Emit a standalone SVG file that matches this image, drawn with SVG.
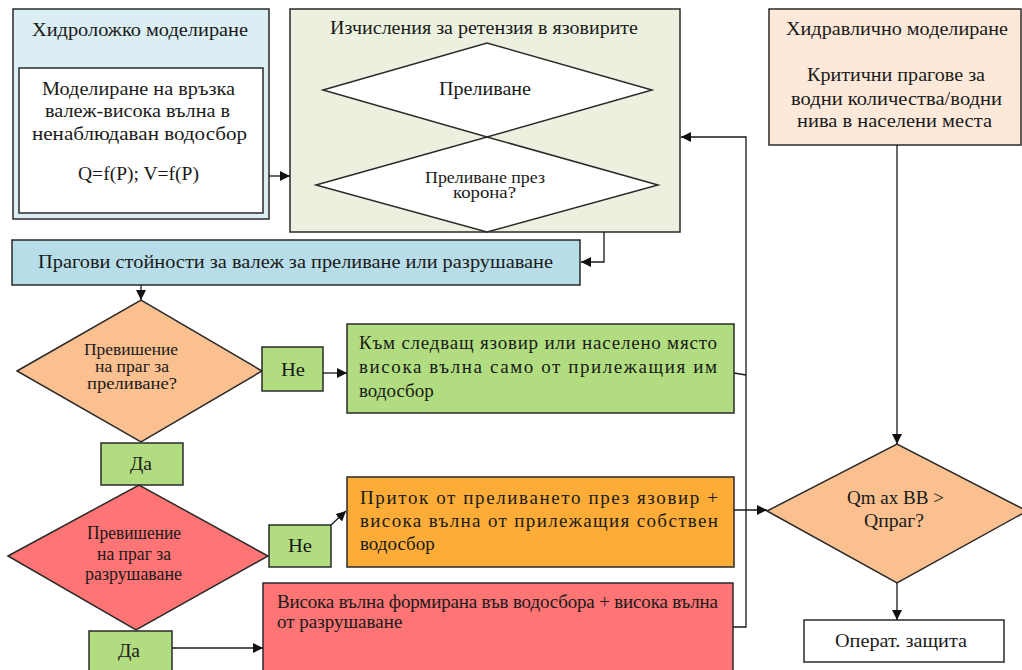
<svg xmlns="http://www.w3.org/2000/svg" width="1022" height="670" viewBox="0 0 1022 670">
<defs>
<marker id="ah" viewBox="0 0 10 10" refX="10" refY="5" markerWidth="10" markerHeight="10" markerUnits="userSpaceOnUse" orient="auto">
<path d="M0,0 L10,5 L0,10 z" fill="#111"/>
</marker>
<style>
.b{stroke:#2a2a2a;stroke-width:1.5}
.t{font-family:"Liberation Serif","Times New Roman",serif;font-size:19px;fill:#1a1a1a}
.s{font-size:16px}
.c{text-anchor:middle}
.ln{fill:none;stroke:#1a1a1a;stroke-width:1.3}
.la{fill:none;stroke:#1a1a1a;stroke-width:1.3;marker-end:url(#ah)}
</style>
</defs>
<rect width="1022" height="670" fill="#fff"/>

<g id="hydro">
<rect class="b" x="13" y="9" width="256" height="210" fill="#dbeef4"/>
<text class="t" x="32" y="36" textLength="216" lengthAdjust="spacingAndGlyphs">Хидроложко моделиране</text>
<rect class="b" x="19" y="68" width="244" height="145" fill="#fff"/>
<text class="t" x="42" y="95" textLength="193" lengthAdjust="spacingAndGlyphs">Моделиране на връзка</text>
<text class="t" x="45" y="117" textLength="185" lengthAdjust="spacingAndGlyphs">валеж-висока вълна в</text>
<text class="t" x="32" y="140" textLength="215" lengthAdjust="spacingAndGlyphs">ненаблюдаван водосбор</text>
<text class="t" x="78" y="180" textLength="121" lengthAdjust="spacingAndGlyphs">Q=f(P);  V=f(P)</text>
</g>

<g id="retention">
<rect class="b" x="290" y="9" width="390" height="223" fill="#ebf1de"/>
<text class="t" x="330" y="34" textLength="308" lengthAdjust="spacingAndGlyphs">Изчисления за ретензия в язовирите</text>
<polygon class="b" points="323,90 487,43 652,90 487,137" fill="#fff"/>
<text class="t" x="439" y="95" textLength="92" lengthAdjust="spacingAndGlyphs">Преливане</text>
<polygon class="b" points="316,185 487,137 658,185 487,232" fill="#fff"/>
<text class="t s" x="425" y="183" textLength="120" lengthAdjust="spacingAndGlyphs">Преливане през</text>
<text class="t s" x="453" y="198" textLength="63" lengthAdjust="spacingAndGlyphs">корона?</text>
</g>

<g id="hydraulic">
<rect class="b" x="769" y="9" width="252" height="136" fill="#fde9d9"/>
<text class="t" x="786" y="35" textLength="222" lengthAdjust="spacingAndGlyphs">Хидравлично моделиране</text>
<text class="t" x="807" y="81" textLength="178" lengthAdjust="spacingAndGlyphs">Критични прагове за</text>
<text class="t" x="791" y="105" textLength="211" lengthAdjust="spacingAndGlyphs">водни количества/водни</text>
<text class="t" x="797" y="127" textLength="195" lengthAdjust="spacingAndGlyphs">нива в населени места</text>
</g>

<g id="thresholds">
<rect class="b" x="12" y="240" width="568" height="45" fill="#b7dde8"/>
<text class="t" x="38" y="268" textLength="515" lengthAdjust="spacingAndGlyphs">Прагови стойности за валеж за преливане или разрушаване</text>
</g>

<g id="decision1">
<polygon class="b" points="17,371 141,300 262,371 141,442" fill="#fac090"/>
<text class="t s" x="84" y="355" textLength="94" lengthAdjust="spacingAndGlyphs">Превишение</text>
<text class="t s" x="95" y="372" textLength="74" lengthAdjust="spacingAndGlyphs">на праг за</text>
<text class="t s" x="87" y="389" textLength="90" lengthAdjust="spacingAndGlyphs">преливане?</text>
</g>

<g id="no1">
<rect class="b" x="262" y="347" width="61" height="44" fill="#b1dd80"/>
<text class="t" x="281" y="376" textLength="24" lengthAdjust="spacingAndGlyphs">Не</text>
</g>

<g id="next">
<rect class="b" x="347" y="324" width="387" height="89" fill="#b1dd80"/>
<text class="t" x="359" y="349" textLength="358" lengthAdjust="spacing">Към следващ язовир или населено място</text>
<text class="t" x="359" y="373" textLength="358" lengthAdjust="spacing">висока вълна само от прилежащия им</text>
<text class="t" x="359" y="397">водосбор</text>
</g>

<g id="yes1">
<rect class="b" x="101" y="443" width="82" height="42" fill="#b1dd80"/>
<text class="t" x="130" y="470" textLength="22" lengthAdjust="spacingAndGlyphs">Да</text>
</g>

<g id="decision2">
<polygon class="b" points="8,556 139,485 268,556 136,630" fill="#ff7474"/>
<text class="t" x="87" y="539" textLength="94" lengthAdjust="spacingAndGlyphs">Превишение</text>
<text class="t" x="97" y="560" textLength="74" lengthAdjust="spacingAndGlyphs">на праг за</text>
<text class="t" x="85" y="580" textLength="97" lengthAdjust="spacingAndGlyphs">разрушаване</text>
</g>

<g id="no2">
<rect class="b" x="269" y="525" width="62" height="42" fill="#b1dd80"/>
<text class="t" x="288" y="552" textLength="24" lengthAdjust="spacingAndGlyphs">Не</text>
</g>

<g id="inflow">
<rect class="b" x="347" y="477" width="387" height="90" fill="#fdad37"/>
<text class="t" x="360" y="504" textLength="358" lengthAdjust="spacing">Приток от преливането през язовир +</text>
<text class="t" x="360" y="527" textLength="358" lengthAdjust="spacing">висока вълна от прилежащия собствен</text>
<text class="t" x="360" y="550">водосбор</text>
</g>

<g id="breach">
<rect class="b" x="263" y="583" width="470" height="95" fill="#ff7474"/>
<text class="t" x="277" y="608" textLength="441" lengthAdjust="spacing">Висока вълна формирана във водосбора + висока вълна</text>
<text class="t" x="277" y="628">от разрушаване</text>
</g>

<g id="yes2">
<rect class="b" x="89" y="631" width="83" height="45" fill="#b1dd80"/>
<text class="t" x="118" y="657" textLength="22" lengthAdjust="spacingAndGlyphs">Да</text>
</g>

<g id="decision3">
<polygon class="b" points="767,511 897,444 1027,511 897,583" fill="#fac090"/>
<text class="t" x="847" y="504" textLength="97" lengthAdjust="spacingAndGlyphs">Qm ax BB &gt;</text>
<text class="t" x="864" y="527" textLength="60" lengthAdjust="spacingAndGlyphs">Qпраг?</text>
</g>

<g id="protect">
<rect class="b" x="804" y="620" width="200" height="42" fill="#fff"/>
<text class="t" x="835" y="647" textLength="132" lengthAdjust="spacingAndGlyphs">Операт. защита</text>
</g>

<g id="connectors">
<line class="la" x1="269" y1="176" x2="290" y2="176"/>
<polyline class="la" points="604,232 604,262 581,262"/>
<line class="la" x1="141" y1="285" x2="141" y2="300"/>
<line class="la" x1="323" y1="373" x2="347" y2="373"/>
<line class="ln" x1="734" y1="373" x2="746" y2="375"/>
<line class="la" x1="331" y1="525" x2="346" y2="511"/>
<line class="la" x1="172" y1="648" x2="263" y2="648"/>
<polyline class="la" points="733,627 746,627 746,137 681,137"/>
<line class="la" x1="734" y1="510" x2="767" y2="510"/>
<line class="la" x1="897" y1="145" x2="897" y2="444"/>
<line class="la" x1="897" y1="583" x2="897" y2="620"/>
</g>
</svg>
